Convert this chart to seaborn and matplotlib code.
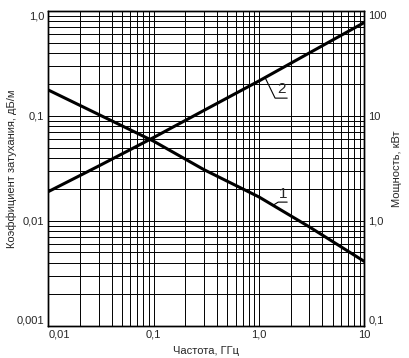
import numpy as np
import pandas as pd
import matplotlib
matplotlib.use("Agg")
import matplotlib.pyplot as plt
import seaborn as sns
from matplotlib.ticker import FixedLocator, FixedFormatter, NullFormatter, LogLocator

# данные
freq = [0.01, 0.03, 0.1, 0.3, 1.0, 3.0, 10.0]            # ГГц
attenuation = [0.177, 0.1035, 0.0575, 0.0308, 0.0169, 0.00877, 0.0041]  # дБ/м (кривая 1)
power = [1.9, 3.33, 6.24, 11.3, 21.6, 39.9, 78.0]        # кВт (кривая 2)

x_ticks = [0.01, 0.1, 1.0, 10]
x_labels = ["0,01", "0,1", "1,0", "10"]
left_ticks = [0.001, 0.01, 0.1, 1.0]
left_labels = ["0,001", "0,01", "0,1", "1,0"]
right_ticks = [0.1, 1.0, 10, 100]
right_labels = ["0,1", "1,0", "10", "100"]

df = pd.DataFrame({"freq": freq, "att": attenuation, "pwr": power})

sns.set_style("white")
plt.rcParams['font.family'] = ['Liberation Sans', 'DejaVu Sans']
plt.rcParams['font.size'] = 8

fig = plt.figure(figsize=(4.09, 3.58), dpi=100)
ax = fig.add_axes([0.118, 0.090, 0.773, 0.879])
ax2 = ax.twinx()

# кривая 1 - коэффициент затухания
sns.lineplot(data=df, x="freq", y="att", ax=ax, color="black", linewidth=2.2)
ax.set_xscale("log")
ax.set_yscale("log")
ax.set_xlim(0.01, 10)
ax.set_ylim(0.001, 1.0)

# кривая 2 - мощность
sns.lineplot(data=df, x="freq", y="pwr", ax=ax2, color="black", linewidth=2.2)
ax2.set_yscale("log")
ax2.set_ylim(0.1, 100)

# сетка
ax.xaxis.set_minor_locator(LogLocator(base=10, subs=np.arange(2, 10)))
ax.yaxis.set_minor_locator(LogLocator(base=10, subs=np.arange(2, 10)))
ax.grid(True, which="both", color="black", linewidth=0.7)
ax.set_axisbelow(True)

# подписи делений
ax.xaxis.set_major_locator(FixedLocator(x_ticks))
ax.xaxis.set_major_formatter(FixedFormatter(x_labels))
ax.xaxis.set_minor_formatter(NullFormatter())
ax.yaxis.set_major_locator(FixedLocator(left_ticks))
ax.yaxis.set_major_formatter(FixedFormatter(left_labels))
ax.yaxis.set_minor_formatter(NullFormatter())
ax2.yaxis.set_major_locator(FixedLocator(right_ticks))
ax2.yaxis.set_major_formatter(FixedFormatter(right_labels))
ax2.yaxis.set_minor_locator(FixedLocator([]))
ax2.yaxis.set_minor_formatter(NullFormatter())

for a in (ax, ax2):
    a.tick_params(which="both", length=0, pad=3, labelsize=8)
    for s in a.spines.values():
        s.set_color("black")
        s.set_linewidth(1.0)

xl = ax.get_xticklabels()
xl[0].set_horizontalalignment("left")
yl = ax.get_yticklabels()
yl[0].set_verticalalignment("bottom")
yl[-1].set_verticalalignment("top")
yr = ax2.get_yticklabels()
yr[0].set_verticalalignment("bottom")
yr[-1].set_verticalalignment("top")

ax.set_xlabel("Частота, ГГц", fontsize=8, labelpad=4)
ax.set_ylabel("Коэффициент затухания, дБ/м", fontsize=8)
ax.yaxis.set_label_coords(-0.10, 0.5)
ax2.set_ylabel("Мощность, кВт", fontsize=8)
ax2.yaxis.set_label_coords(1.088, 0.5)

# выноски 1 и 2
ax2.plot([1.14, 1.42, 1.85], [23.3, 14.8, 14.8], color="black", linewidth=0.8)
ax2.text(1.62, 15.4, "2", ha="center", va="bottom", fontsize=11)
ax.plot([1.36, 1.52, 1.85], [0.0141, 0.0151, 0.0151], color="black", linewidth=0.8)
ax.text(1.69, 0.0156, "1", ha="center", va="bottom", fontsize=11)

plt.savefig("out.png", dpi=100)
